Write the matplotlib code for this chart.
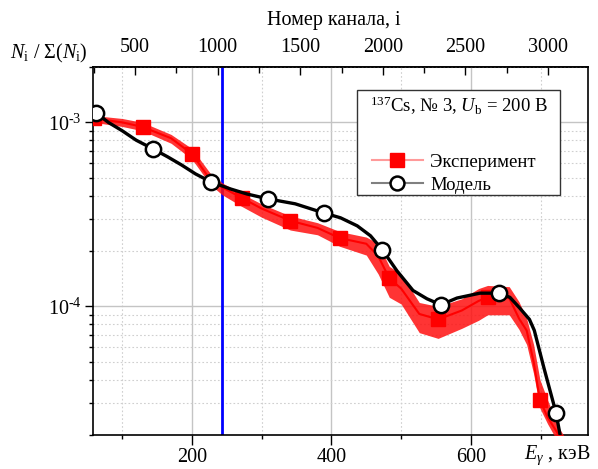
import numpy as np
import matplotlib
matplotlib.use('Agg')
import matplotlib.pyplot as plt
from matplotlib.ticker import MultipleLocator, LogLocator, NullFormatter, FixedLocator, FuncFormatter
from matplotlib.lines import Line2D
from matplotlib.patches import Rectangle

plt.rcParams['font.family'] = ['Liberation Serif', 'DejaVu Serif']
plt.rcParams['mathtext.fontset'] = 'custom'
plt.rcParams['mathtext.rm'] = 'Liberation Serif'
plt.rcParams['mathtext.it'] = 'Liberation Serif:italic'
plt.rcParams['mathtext.bf'] = 'Liberation Serif:bold'

## Data

# experiment, keV / normalized counts, with noise envelope
e_exp = [59, 100, 129, 170, 200, 226, 243, 271, 300, 341, 380, 412, 450, 467, 483,
         500, 526, 553, 587, 611, 624, 655, 669, 680, 690, 699, 710, 726, 740]
n_exp = [1.05e-3, 1.0e-3, 9.45e-4, 8.2e-4, 6.74e-4, 4.9e-4, 4.45e-4, 3.89e-4, 3.4e-4,
         2.92e-4, 2.67e-4, 2.35e-4, 2.19e-4, 1.88e-4, 1.42e-4, 1.25e-4, 9.1e-5, 8.5e-5,
         9.5e-5, 1.07e-4, 1.12e-4, 1.11e-4, 8.6e-5, 7.4e-5, 5.0e-5, 3.1e-5, 2.5e-5,
         2.0e-5, 1.4e-5]
n_exp_hi = [1.09e-3, 1.05e-3, 1.0e-3, 8.6e-4, 7.2e-4, 5.3e-4, 4.7e-4, 4.1e-4,
            3.6e-4, 3.1e-4, 2.85e-4, 2.55e-4, 2.38e-4, 2.2e-4, 1.65e-4, 1.50e-4,
            1.05e-4, 1.0e-4, 1.1e-4, 1.25e-4, 1.30e-4, 1.28e-4, 1.06e-4, 8.6e-5,
            6.2e-5, 4.0e-5, 3.1e-5, 2.2e-5, 1.8e-5]
n_exp_lo = [1.0e-3, 9.5e-4, 9.0e-4, 7.7e-4, 6.3e-4, 4.6e-4, 4.05e-4, 3.5e-4,
            3.05e-4, 2.6e-4, 2.45e-4, 2.12e-4, 1.9e-4, 1.5e-4, 1.12e-4, 1.03e-4,
            7.2e-5, 6.7e-5, 7.6e-5, 8.4e-5, 9.0e-5, 9.0e-5, 7.5e-5, 6.2e-5,
            4.3e-5, 2.8e-5, 2.3e-5, 1.8e-5, 1.45e-5]
mark_exp = [0, 2, 4, 7, 9, 11, 14, 17, 20, 25]

# model
e_mod = [59, 62, 80, 100, 120, 144, 165, 185, 205, 227, 255, 279, 309, 348, 389, 413,
         437, 456, 473, 494, 517, 537, 557, 580, 613, 640, 656, 670, 684, 691, 705, 722,
         728, 740]
n_mod = [1.16e-3, 1.13e-3, 1.0e-3, 9.0e-4, 8.0e-4, 7.18e-4, 6.5e-4, 5.87e-4, 5.25e-4,
         4.75e-4, 4.35e-4, 4.08e-4, 3.84e-4, 3.61e-4, 3.22e-4, 3.03e-4, 2.74e-4, 2.42e-4,
         2.03e-4, 1.56e-4, 1.22e-4, 1.10e-4, 1.02e-4, 1.11e-4, 1.18e-4, 1.18e-4, 1.12e-4,
         9.8e-5, 8.5e-5, 7.4e-5, 4.6e-5, 2.65e-5, 2.0e-5, 1.2e-5]
mark_mod = [1, 5, 9, 12, 14, 18, 22, 25, 31]

e_cut = 243          # blue marker line, keV
ch_per_kev = 4.222   # channel calibration
ch_ticks = [500, 1000, 1500, 2000, 2500, 3000]

##

fs = 14.5


def pow_label(v, pos):
    # 10^-n with a short hyphen instead of the math minus
    p = int(round(np.log10(v)))
    return r'10$^{\mathrm{‐%d}}$' % (-p) if p < 0 else r'10$^{%d}$' % p


fig = plt.figure(figsize=(5.98, 4.69), dpi=100)
ax = fig.add_axes([93/598, 1-435/469, 495/598, 368/469])

ax.axvline(e_cut, color='#0000ff', lw=2, zorder=2)

ax.fill_between(e_exp, n_exp_lo, n_exp_hi, color='#ff1010', alpha=0.85, lw=0, zorder=3)
ax.plot(e_exp, n_exp, color='red', lw=1.5, marker='s', ms=9.5, mfc='red', mec='red',
        markevery=mark_exp, zorder=4)
ax.plot(e_mod, n_mod, color='black', lw=2.4, marker='o', ms=11, mfc='white', mec='black',
        mew=1.8, markevery=mark_mod, zorder=5)

ax.set_yscale('log')
ax.set_xlim(58, 768)
ax.set_ylim(2e-5, 2e-3)

ax.xaxis.set_major_locator(MultipleLocator(200))
ax.xaxis.set_minor_locator(MultipleLocator(100))
ax.yaxis.set_major_locator(LogLocator(base=10, numticks=10))
ax.yaxis.set_major_formatter(FuncFormatter(pow_label))
ax.yaxis.set_minor_locator(LogLocator(base=10, subs=np.arange(2, 10), numticks=10))
ax.yaxis.set_minor_formatter(NullFormatter())

ax.grid(which='major', color='#c4c4c4', lw=1.0, ls='-', zorder=0)
ax.grid(which='minor', color='#cfcfcf', lw=0.8, ls=(0, (1.5, 2)), zorder=0)
ax.set_axisbelow(True)

ax.tick_params(axis='x', which='major', direction='out', length=7, width=1, pad=2, labelsize=fs)
ax.tick_params(axis='x', which='minor', direction='out', length=3, width=1)
ax.tick_params(axis='y', which='major', direction='out', length=6, width=1, pad=2, labelsize=fs)
ax.tick_params(axis='y', which='minor', direction='out', length=3, width=1)
ax.tick_params(top=False, right=False)
for sp in ax.spines.values():
    sp.set_linewidth(1.2)

# channel axis on top
secax = ax.secondary_xaxis('top', functions=(lambda e: e*ch_per_kev, lambda c: c/ch_per_kev))
secax.xaxis.set_major_locator(FixedLocator(ch_ticks))
secax.xaxis.set_minor_locator(FixedLocator([t + 250 for t in ch_ticks[:-1]] + [250]))
secax.tick_params(which='major', direction='in', length=6, width=1, pad=7, labelsize=fs)
secax.tick_params(which='minor', direction='in', length=4, width=1)
secax.spines['top'].set_linewidth(1.2)

fig.text(334/598, 1-20/469, 'Номер канала, i', ha='center', va='center', fontsize=fs)
fig.text(10/598, 1-53/469, r'$N_\mathrm{i}$ / Σ($N_\mathrm{i}$)', ha='left', va='center', fontsize=fs)
fig.text(524/598, 1-455/469, r'$E_\gamma$ , кэВ', ha='left', va='center', fontsize=fs)

# legend box
ax.add_patch(Rectangle((0.533, 0.652), 0.41, 0.2855, transform=ax.transAxes,
                       facecolor='white', edgecolor='#333333', lw=1, zorder=10))
ax.text(0.740, 0.893, r'$^{137}$Cs, № 3, $U_\mathrm{b}$ = 200 В', transform=ax.transAxes,
        ha='center', va='center', fontsize=13.5, zorder=11)
handles = [Line2D([], [], color='#ff9a9a', lw=1.5, marker='s', ms=10, mfc='red', mec='red'),
           Line2D([], [], color='#808080', lw=1.5, marker='o', ms=10, mfc='white', mec='black', mew=1.8)]
leg = ax.legend(handles, ['Эксперимент', 'Модель'], loc='upper left',
                bbox_to_anchor=(0.545, 0.79), frameon=False, fontsize=13.5,
                handlelength=2.7, handletextpad=0.4, borderpad=0, labelspacing=0.3)
leg.set_zorder(12)

fig.savefig('out.png', dpi=100)
